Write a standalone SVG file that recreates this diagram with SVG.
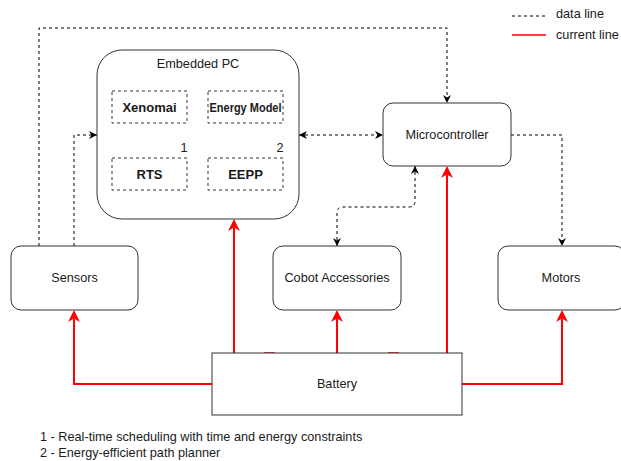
<svg xmlns="http://www.w3.org/2000/svg" width="621" height="461" viewBox="0 0 621 461">
<style>
text{font-family:"Liberation Sans",Arial,sans-serif;font-size:12.7px;fill:#1a1a1a}
.c{text-anchor:middle}
.b{font-weight:bold;font-size:13px}
.node{fill:#fff;stroke:#333;stroke-width:1}
.sub{fill:#fff;stroke:#333;stroke-width:1;stroke-dasharray:3 3}
.data{fill:none;stroke:#000;stroke-width:1;stroke-dasharray:3 3}
.cur{fill:none;stroke:#ff0000;stroke-width:2}
</style>
<defs>
<marker id="ad" viewBox="0 0 10 10" refX="10" refY="5" markerWidth="8" markerHeight="8" markerUnits="userSpaceOnUse" orient="auto-start-reverse"><path d="M0,0 L10,5 L0,10 L3,5 z" fill="#000"/></marker>
<marker id="ar" viewBox="0 0 10 10" refX="3" refY="5" markerWidth="12" markerHeight="12" markerUnits="userSpaceOnUse" orient="auto"><path d="M0,0 L10,5 L0,10 L3,5 z" fill="#ff0000"/></marker>
</defs>
<g id="legend">
<line x1="512" y1="16" x2="546" y2="16" class="data"/>
<text x="556" y="18">data line</text>
<line x1="512" y1="35" x2="546" y2="35" stroke="#ff0000" stroke-width="1.5"/>
<text x="556" y="39">current line</text>
</g>
<g id="connectors">
<path class="data" d="M39,246 V28 H447 V103" marker-end="url(#ad)"/>
<path class="data" d="M74,246 V135 H97" marker-end="url(#ad)"/>
<path class="data" d="M299,135 H383" marker-start="url(#ad)" marker-end="url(#ad)"/>
<path class="data" d="M511,135 H562 V246" marker-end="url(#ad)"/>
<path class="data" d="M337,246 V213 Q337,207 343,207 H409 Q415,207 415,201 V166" marker-start="url(#ad)" marker-end="url(#ad)"/>
<path class="cur" d="M212,384 H74 V318.4" marker-end="url(#ar)"/>
<path class="cur" d="M234,353 V227.4" marker-end="url(#ar)"/>
<path class="cur" d="M337,353 V318.4" marker-end="url(#ar)"/>
<path class="cur" d="M447,353 V174.4" marker-end="url(#ar)"/>
<path class="cur" d="M462,384 H562 V318.4" marker-end="url(#ar)"/>
<line x1="264" y1="353" x2="275" y2="353" stroke="#ff0000" stroke-width="1.5"/>
<line x1="388" y1="353" x2="399" y2="353" stroke="#ff0000" stroke-width="1.5"/>
</g>
<g id="embedded-pc">
<rect x="97" y="50" width="202" height="169" rx="25" ry="25" class="node"/>
<text x="198" y="68" class="c">Embedded PC</text>
</g>
<g id="xenomai">
<rect x="112" y="91" width="75" height="32" class="sub"/>
<text x="149.5" y="111.5" class="c b">Xenomai</text>
</g>
<g id="energy-model">
<rect x="208" y="91" width="75" height="32" class="sub"/>
<text x="245.5" y="111.5" class="c b" style="font-size:12px" textLength="72" lengthAdjust="spacingAndGlyphs">Energy Model</text>
</g>
<g id="rts">
<rect x="112" y="158" width="75" height="32" class="sub"/>
<text x="149.5" y="178.5" class="c b">RTS</text>
<text x="184" y="152" class="c">1</text>
</g>
<g id="eepp">
<rect x="208" y="158" width="75" height="32" class="sub"/>
<text x="245.5" y="178.5" class="c b">EEPP</text>
<text x="280" y="152" class="c">2</text>
</g>
<g id="microcontroller">
<rect x="383" y="103" width="128" height="63" rx="10" ry="10" class="node"/>
<text x="447" y="139" class="c">Microcontroller</text>
</g>
<g id="sensors">
<rect x="11" y="246" width="127" height="64" rx="10" ry="10" class="node"/>
<text x="74.5" y="282" class="c">Sensors</text>
</g>
<g id="cobot-accessories">
<rect x="273" y="246" width="128" height="64" rx="10" ry="10" class="node"/>
<text x="337" y="282" class="c">Cobot Accessories</text>
</g>
<g id="motors">
<rect x="498" y="246" width="127" height="64" rx="10" ry="10" class="node"/>
<text x="561" y="282" class="c">Motors</text>
</g>
<g id="battery">
<rect x="212" y="353" width="250" height="62" class="node"/>
<text x="337" y="388" class="c">Battery</text>
</g>
<g id="notes">
<text x="40" y="441">1 - Real-time scheduling with time and energy constraints</text>
<text x="40" y="457">2 - Energy-efficient path planner</text>
</g>
</svg>
